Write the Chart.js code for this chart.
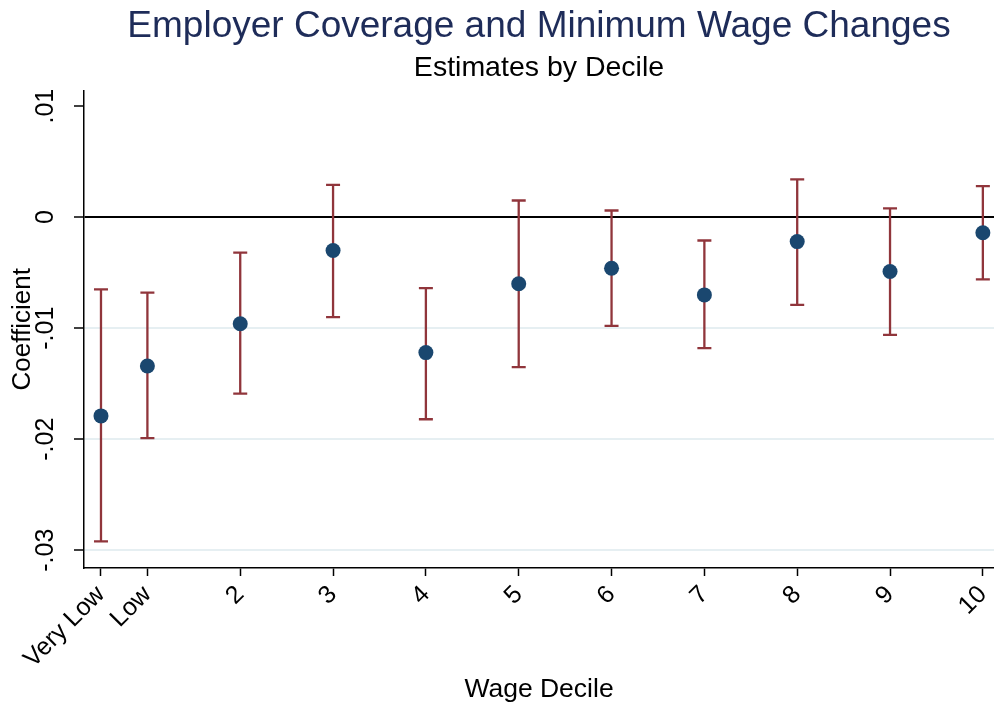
<!DOCTYPE html>
<html>
<head>
<meta charset="utf-8">
<script src="https://cdn.jsdelivr.net/npm/chart.js@4"></script>
<style>
  body { margin: 0; background: #fff; }
  #wrap { width: 994px; height: 709px; }
</style>
</head>
<body>
<div id="wrap"><canvas id="chart" width="994" height="709"></canvas></div>
<script>
// Decile positions (Very Low sits half a step left of Low)
const decilePos = [0.5, 1, 2, 3, 4, 5, 6, 7, 8, 9, 10];
const decileLabels = ['Very Low', 'Low', '2', '3', '4', '5', '6', '7', '8', '9', '10'];

// Point estimates and confidence interval ends
const coef   = [-0.0179, -0.0134, -0.0096, -0.0030, -0.0122, -0.0060, -0.0046, -0.0070, -0.0022, -0.0049, -0.0014];
const ciLow  = [-0.0292, -0.0199, -0.0159, -0.0090, -0.0182, -0.0135, -0.0098, -0.0118, -0.0079, -0.0106, -0.0056];
const ciHigh = [-0.0065, -0.0068, -0.0032,  0.0029, -0.0064,  0.0015,  0.0006, -0.0021,  0.0034,  0.0008,  0.0028];

// Y axis ticks, Stata style labels
const yTickValues = [-0.03, -0.02, -0.01, 0, 0.01];
const yTickLabels = ['-.03', '-.02', '-.01', '0', '.01'];

const NAVY = '#1a476f';
const CRANBERRY = '#90353b';
const GRID = '#e6eff2';

Chart.defaults.font.family = '"Liberation Sans", Arial, sans-serif';
Chart.defaults.color = '#000';

// One small line dataset per interval, caps drawn with the 'line' point style
const ciSets = decilePos.map((x, i) => ({
    data: [{ x: x, y: ciLow[i] }, { x: x, y: ciHigh[i] }],
    showLine: true,
    borderColor: CRANBERRY,
    borderWidth: 2.3,
    pointStyle: 'line',
    pointRadius: 7,
    pointBorderWidth: 2.3,
    pointBorderColor: CRANBERRY,
    order: 2
}));

const pointSet = {
    data: decilePos.map((x, i) => ({ x: x, y: coef[i] })),
    pointRadius: 7.5,
    pointBackgroundColor: NAVY,
    pointBorderColor: NAVY,
    pointBorderWidth: 0,
    showLine: false,
    order: 1
};

const ctx = document.getElementById('chart').getContext('2d');
new Chart(ctx, {
    type: 'scatter',
    data: { datasets: [pointSet].concat(ciSets) },
    options: {
        responsive: false,
        animation: false,
        events: [],
        layout: { padding: 0, autoPadding: false },
        plugins: {
            legend: { display: false },
            tooltip: { enabled: false },
            title: {
                display: true,
                fullSize: false,
                text: 'Employer Coverage and Minimum Wage Changes',
                color: '#1e2c59',
                font: { size: 37, weight: 'normal' },
                padding: { top: 5, bottom: 2 }
            },
            subtitle: {
                display: true,
                fullSize: false,
                text: 'Estimates by Decile',
                color: '#000',
                font: { size: 28.5, weight: 'normal' },
                padding: { top: 0, bottom: 5 }
            }
        },
        scales: {
            x: {
                type: 'linear',
                min: 0.317,
                max: 10.12,
                afterBuildTicks: s => { s.ticks = decilePos.map(v => ({ value: v })); },
                afterFit: s => { s.height = 141; s.paddingLeft = 0; s.paddingRight = 0; },
                ticks: {
                    autoSkip: false,
                    minRotation: 45,
                    maxRotation: 45,
                    padding: 4,
                    font: { size: 25 },
                    callback: v => decileLabels[decilePos.indexOf(v)]
                },
                grid: {
                    drawOnChartArea: false,
                    drawTicks: true,
                    tickLength: 8,
                    tickColor: '#000',
                    tickWidth: 1.5
                },
                border: { display: true, color: '#000', width: 1.5 },
                title: {
                    display: true,
                    text: 'Wage Decile',
                    font: { size: 26.5 },
                    padding: { top: 0, bottom: 3 }
                }
            },
            y: {
                min: -0.0316,
                max: 0.0114,
                afterBuildTicks: s => { s.ticks = yTickValues.map(v => ({ value: v })); },
                afterFit: s => { s.width = 84; s.paddingTop = 0; s.paddingBottom = 0; },
                ticks: {
                    minRotation: 90,
                    maxRotation: 90,
                    crossAlign: 'center',
                    padding: 6,
                    font: { size: 25 },
                    callback: v => yTickLabels[yTickValues.indexOf(v)]
                },
                grid: {
                    color: c => c.tick && c.tick.value === 0 ? '#000' : (c.tick && c.tick.value === 0.01 ? 'rgba(0,0,0,0)' : GRID),
                    lineWidth: 2,
                    tickLength: 10,
                    tickColor: '#000',
                    tickWidth: 1.5
                },
                border: { display: true, color: '#000', width: 1.5 },
                title: {
                    display: true,
                    text: 'Coefficient',
                    font: { size: 26 },
                    padding: { top: 7, bottom: 0 }
                }
            }
        }
    }
});
</script>
</body>
</html>
